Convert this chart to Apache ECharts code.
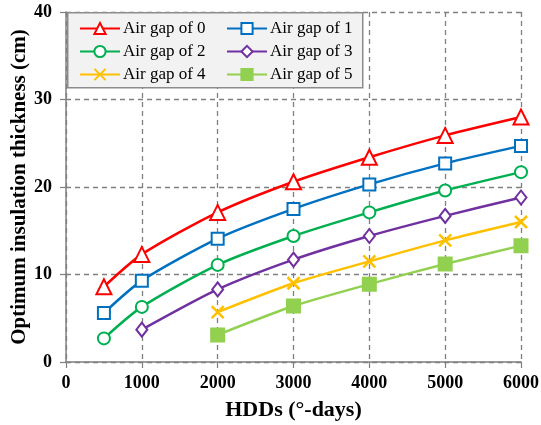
<!DOCTYPE html>
<html><head><meta charset="utf-8">
<script src="https://cdn.jsdelivr.net/npm/echarts@6/dist/echarts.min.js"></script>
<style>html,body{margin:0;padding:0;background:#fff}#c{width:541px;height:425px}</style>
</head><body><div id="c"></div>
<script>
const hdd = [500, 1000, 2000, 3000, 4000, 5000, 6000];
const gap0 = [8.6, 12.3, 17.1, 20.6, 23.4, 25.9, 28.0];
const gap1 = [5.6, 9.3, 14.1, 17.5, 20.3, 22.7, 24.7];
const gap2 = [2.7, 6.3, 11.1, 14.4, 17.1, 19.6, 21.7];
const gap3 = [null, 3.7, 8.3, 11.7, 14.4, 16.7, 18.8];
const gap4 = [null, null, 5.7, 9.0, 11.5, 13.9, 16.0];
const gap5 = [null, null, 3.1, 6.4, 8.9, 11.2, 13.3];
const names = ['Air gap of 0','Air gap of 1','Air gap of 2','Air gap of 3','Air gap of 4','Air gap of 5'];
const xTicks = [0, 1000, 2000, 3000, 4000, 5000, 6000];
const yTicks = [0, 10, 20, 30, 40];

const FONT = "'Times New Roman','Liberation Serif',serif";
const colors = ['#ff0000','#0070c0','#00b050','#7030a0','#ffc000','#92d050'];
const symbols = ['emptyTriangle','emptyRect','emptyCircle','emptyDiamond','path://M0,0L10,10M10,0L0,10','rect'];
const sizes = [15, 12, 12, [11,14], 12, 13];
const all = [gap0,gap1,gap2,gap3,gap4,gap5];

function pairs(arr){ const out=[]; arr.forEach((v,i)=>{ if(v!==null) out.push([hdd[i], v]); }); return out; }

const series = all.map((arr,i)=>({
  name: names[i], type:'line', data: pairs(arr), smooth: 0.25,
  symbol: symbols[i], symbolSize: sizes[i],
  lineStyle:{color:colors[i], width:2.5},
  itemStyle:{color: i===4 ? 'none' : colors[i], borderColor:colors[i], borderWidth: i===4 ? 2.5 : 2},
  z: 2
}));

const legendCommon = {
  orient:'vertical', top: 20, itemWidth: 40, itemHeight: 14, itemGap: 6,
  textStyle:{fontFamily:FONT, fontSize:17, color:'#000', padding:[0,0,0,-2]},
  padding: 0, z: 5
};

const chart = echarts.init(document.getElementById('c'), null, {renderer:'canvas'});
chart.setOption({
  animation:false,
  backgroundColor:'#fff',
  grid:{left:66, right:20, top:12, bottom:63, containLabel:false, outerBoundsMode:'none'},
  xAxis:{
    type:'value', min:xTicks[0], max:xTicks[xTicks.length-1], interval:1000,
    name:'HDDs (°-days)', nameLocation:'middle', nameGap:37, nameMoveOverlap:false,
    nameTextStyle:{fontFamily:FONT, fontSize:22, fontWeight:'bold', color:'#000'},
    axisLine:{lineStyle:{color:'#7f7f7f', width:1.5}},
    axisTick:{show:true, length:6, lineStyle:{color:'#7f7f7f', width:1.2}},
    axisLabel:{fontFamily:FONT, fontSize:18, fontWeight:'bold', color:'#000', margin:12, formatter: v => String(v)},
    splitLine:{show:true, lineStyle:{color:'#808080', type:[5,4], width:1.3}}
  },
  yAxis:{
    type:'value', min:yTicks[0], max:yTicks[yTicks.length-1], interval:10,
    name:'Optimum insulation thickness (cm)', nameLocation:'middle', nameGap:36, nameMoveOverlap:false,
    nameTextStyle:{fontFamily:FONT, fontSize:21, fontWeight:'bold', color:'#000'},
    axisLine:{show:true, lineStyle:{color:'#7f7f7f', width:1.5}},
    axisTick:{show:true, length:6, lineStyle:{color:'#7f7f7f', width:1.2}},
    axisLabel:{fontFamily:FONT, fontSize:18, fontWeight:'bold', color:'#000', margin:14, formatter: v => String(v)},
    splitLine:{show:true, lineStyle:{color:'#808080', type:[5,4], width:1.3}}
  },
  graphic:[{type:'rect', left:67, top:12, shape:{width:295, height:75}, z:4,
    style:{fill:'#f2f2f2', stroke:'#8c8c8c', lineWidth:1.5}}],
  legend:[
    Object.assign({}, legendCommon, {left:79, data:[names[0],names[2],names[4]]}),
    Object.assign({}, legendCommon, {left:226, data:[names[1],names[3],names[5]]})
  ],
  series: series
});
</script></body></html>
